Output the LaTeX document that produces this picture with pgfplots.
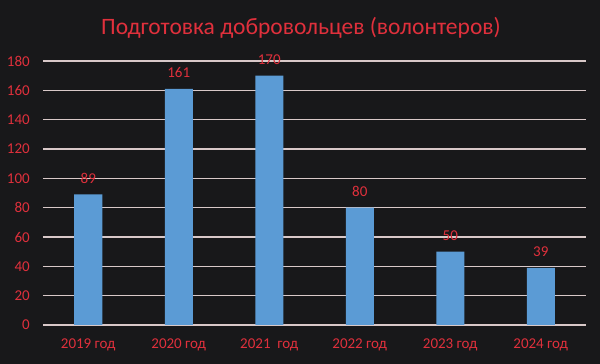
\documentclass[border=0pt]{standalone}
\usepackage{fontspec}
\setmainfont{Carlito}
\usepackage{pgfplots}
\pgfplotsset{compat=1.18}
\definecolor{bg}{HTML}{18181A}
\definecolor{txtred}{HTML}{E0303C}
\definecolor{barblue}{HTML}{5B9BD5}
\definecolor{gridc}{HTML}{D8C8C8}
\begin{document}
\begin{tikzpicture}
\fill[bg] (0,0) rectangle (600pt,364pt);
\node[text=txtred, font=\fontsize{23.5}{27}\selectfont, anchor=center] at (301pt,336pt) {Подготовка добровольцев (волонтеров)};
\begin{axis}[
  at={(43pt,39pt)}, anchor=south west,
  scale only axis, width=543pt, height=264pt,
  xmin=-0.5, xmax=5.5, ymin=0, ymax=180,
  ytick={0,20,...,180},
  xtick={0,1,2,3,4,5},
  xticklabels={2019 год,2020 год,2021\ \ год,2022 год,2023 год,2024 год},
  axis line style={draw=none},
  major tick length=0pt,
  ymajorgrids, grid style={gridc, line width=1.3pt},
  /pgf/number format/assume math mode=true,
  tick label style={text=txtred, font=\fontsize{15}{17}\selectfont},
  yticklabel style={inner sep=0pt, xshift=-13pt},
  xticklabel style={inner sep=0pt, yshift=-14pt},
  clip=false,
]
\addplot[ybar, bar width=28pt, fill=barblue, draw=none,
  nodes near coords, every node near coord/.append style={text=txtred, font=\fontsize{15}{17}\selectfont, inner sep=0pt, yshift=11pt}]
  coordinates {(0,89) (1,161) (2,170) (3,80) (4,50) (5,39)};
\end{axis}
\pgfresetboundingbox
\useasboundingbox (0,0) rectangle (600pt,364pt);
\end{tikzpicture}
\end{document}
